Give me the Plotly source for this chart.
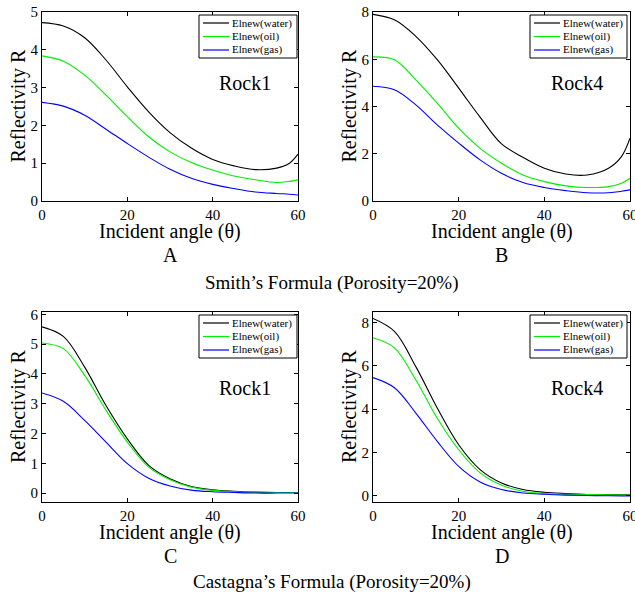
import plotly.graph_objects as go

# ---------------- data ----------------
angles = [0, 5, 10, 15, 20, 25, 30, 35, 40, 45, 50, 55, 58, 60]

# Panel A: Smith's formula, Rock1
a_water = [4.72, 4.63, 4.32, 3.73, 3.02, 2.36, 1.81, 1.40, 1.10, 0.93, 0.83, 0.87, 1.00, 1.24]
a_oil   = [3.84, 3.70, 3.33, 2.80, 2.23, 1.70, 1.30, 1.02, 0.82, 0.66, 0.56, 0.49, 0.52, 0.56]
a_gas   = [2.61, 2.51, 2.27, 1.90, 1.52, 1.16, 0.84, 0.60, 0.44, 0.33, 0.24, 0.20, 0.18, 0.16]

# Panel B: Smith's formula, Rock4
b_water = [7.90, 7.67, 6.97, 5.98, 4.78, 3.55, 2.42, 1.85, 1.39, 1.14, 1.10, 1.39, 1.88, 2.66]
b_oil   = [6.10, 5.98, 5.13, 4.14, 3.08, 2.23, 1.60, 1.10, 0.82, 0.64, 0.57, 0.61, 0.75, 0.96]
b_gas   = [4.86, 4.71, 4.07, 3.22, 2.45, 1.74, 1.17, 0.78, 0.57, 0.44, 0.35, 0.35, 0.41, 0.47]

# Panel C: Castagna's formula, Rock1
c_water = [5.58, 5.26, 4.23, 2.94, 1.82, 0.93, 0.48, 0.22, 0.11, 0.06, 0.03, 0.02, 0.02, 0.02]
c_oil   = [5.04, 4.85, 3.95, 2.78, 1.71, 0.87, 0.45, 0.20, 0.09, 0.045, 0.03, 0.02, 0.02, 0.02]
c_gas   = [3.36, 3.08, 2.44, 1.71, 0.99, 0.50, 0.24, 0.10, 0.045, 0.02, 0.0, 0.0, 0.0, 0.0]

# Panel D: Castagna's formula, Rock4
d_water = [8.20, 7.60, 5.97, 4.05, 2.35, 1.20, 0.58, 0.28, 0.15, 0.09, 0.05, 0.04, 0.03, 0.03]
d_oil   = [7.31, 6.84, 5.35, 3.58, 2.12, 1.05, 0.48, 0.20, 0.09, 0.06, 0.05, 0.03, 0.02, 0.02]
d_gas   = [5.46, 4.99, 3.82, 2.51, 1.35, 0.63, 0.28, 0.12, 0.06, 0.02, 0.0, -0.01, -0.02, -0.02]

series_names = ["Elnew(water)", "Elnew(oil)", "Elnew(gas)"]
series_colors = ["#000000", "#00ee00", "#0000ff"]

panels = [
    dict(data=[a_water, a_oil, a_gas], rock="Rock1", letter="A",
         yrange=[0, 5], ytick=1),
    dict(data=[b_water, b_oil, b_gas], rock="Rock4", letter="B",
         yrange=[0, 8], ytick=2),
    dict(data=[c_water, c_oil, c_gas], rock="Rock1", letter="C",
         yrange=[-0.3, 6.08], ytick=1),
    dict(data=[d_water, d_oil, d_gas], rock="Rock4", letter="D",
         yrange=[-0.3, 8.5], ytick=2),
]
x_title = "Incident angle (\u03b8)"
y_title = "Reflectivity R"
captions = ["Smith\u2019s Formula (Porosity=20%)", "Castagna\u2019s Formula (Porosity=20%)"]

# ---------------- layout geometry (pixels) ----------------
W, H = 635, 597
FONT = "Liberation Serif, Times New Roman, serif"
xpix = [(42, 298), (373, 630), (42, 298), (373, 630)]
ypix = [(12, 201), (12, 201), (312, 502), (312, 502)]
# legend boxes (left, top, right, bottom)
legend_box = [(199, 15, 297, 58), (530, 15, 627, 58),
              (199, 315, 297, 358), (530, 315, 627, 358)]


def px(x):
    return x / W


def py(y):
    return 1 - y / H


fig = go.Figure()
annotations = []
shapes = []


def txt(x, y, text, size, xanchor="center", angle=0):
    annotations.append(dict(
        x=px(x), y=py(y), xref="paper", yref="paper", text=text,
        showarrow=False, xanchor=xanchor, yanchor="middle", textangle=angle,
        borderpad=0,
        font=dict(family=FONT, size=size, color="black")))


for i, p in enumerate(panels):
    k = "" if i == 0 else str(i + 1)
    for vals, name, col in zip(p["data"], series_names, series_colors):
        fig.add_trace(go.Scatter(
            x=angles, y=vals, name=name, mode="lines",
            line=dict(color=col, width=1.1, shape="spline", smoothing=1.0),
            xaxis=f"x{k}", yaxis=f"y{k}", showlegend=False, hoverinfo="skip",
        ))
    x0, x1 = xpix[i]
    y0, y1 = ypix[i]
    axis_common = dict(
        showline=True, linecolor="black", linewidth=1, mirror="ticks",
        ticks="inside", ticklen=4, tickcolor="black", tickwidth=1,
        showgrid=False, zeroline=False, automargin=False,
        ticklabeloverflow="allow",
        tickfont=dict(family=FONT, size=15, color="black"),
    )
    fig.update_layout(**{
        f"xaxis{k}": dict(
            domain=[px(x0), px(x1)], anchor=f"y{k}", range=[0, 60],
            tick0=0, dtick=20, **axis_common),
        f"yaxis{k}": dict(
            domain=[py(y1), py(y0)], anchor=f"x{k}", range=p["yrange"],
            tick0=0, dtick=p["ytick"], **axis_common),
    })

    # axis titles, panel labels
    txt((x0 + x1) / 2, y1 + 30, x_title, 20)
    txt(x0 - 24, (y0 + y1) / 2, y_title, 20, angle=-90)
    txt((x0 + x1) / 2, y1 + 54, p["letter"], 20)
    rock_x = 245 if i % 2 == 0 else 577
    rock_y = 83 if i < 2 else 388
    txt(rock_x, rock_y, p["rock"], 20)

    # legend box (drawn like the MATLAB legend)
    lx0, ly0, lx1, ly1 = legend_box[i]
    shapes.append(dict(type="rect", xref="paper", yref="paper",
                       x0=px(lx0), x1=px(lx1), y0=py(ly1), y1=py(ly0),
                       line=dict(color="black", width=1), fillcolor="white",
                       layer="above"))
    for j, (name, col) in enumerate(zip(series_names, series_colors)):
        yy = ly0 + 8 + 13.5 * j
        shapes.append(dict(type="line", xref="paper", yref="paper",
                           x0=px(lx0 + 4), x1=px(lx0 + 30), y0=py(yy), y1=py(yy),
                           line=dict(color=col, width=1.2), layer="above"))
        txt(lx0 + 32, yy, name, 11, xanchor="left")

for cap, cy in zip(captions, [283, 582]):
    txt(332, cy, cap, 19)

fig.update_layout(
    template="none",
    width=W, height=H, margin=dict(l=0, r=0, t=0, b=0, autoexpand=False),
    paper_bgcolor="white", plot_bgcolor="white",
    showlegend=False, annotations=annotations, shapes=shapes,
    font=dict(family=FONT, color="black"),
)

fig.write_html(
    "out.html",
    config={"displayModeBar": False, "staticPlot": True},
    post_script="document.body.style.margin='0';document.body.style.overflow='hidden';",
)
